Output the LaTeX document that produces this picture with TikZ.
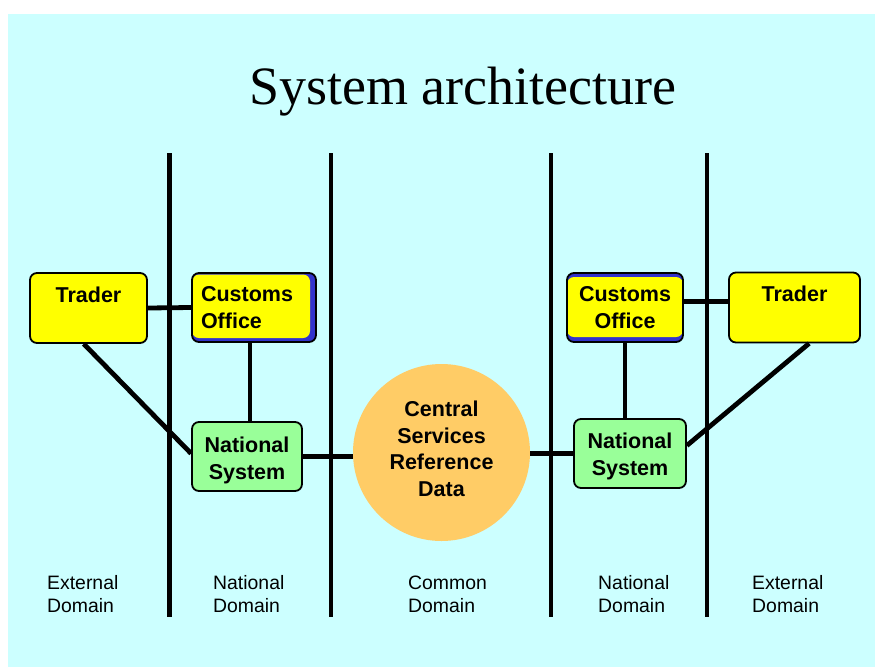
\documentclass[tikz,border=0pt]{standalone}
\usepackage{fontspec}
\setmainfont{Liberation Sans}
\newfontfamily\titlefont{Liberation Serif}
\usetikzlibrary{calc}
\definecolor{bgcyan}{HTML}{CCFFFF}
\definecolor{boxyellow}{HTML}{FFFF00}
\definecolor{boxgreen}{HTML}{99FF99}
\definecolor{boxorange}{HTML}{FFCC66}
\definecolor{shadeblue}{HTML}{3333CC}
\tikzset{
  box/.style={draw=black, line width=1.8pt, rounded corners=7pt, inner sep=0pt,
    font=\fontsize{21.5}{26.5}\selectfont\bfseries, align=center},
  traderbox/.style={box, fill=boxyellow, minimum height=70pt, text height=29pt, text depth=41pt},
  customsbox/.style={box, fill=shadeblue, minimum height=69pt},
  nsbox/.style={box, fill=boxgreen, minimum height=69pt},
  hub/.style={circle, fill=boxorange, inner sep=0pt, minimum size=177pt,
    font=\fontsize{21.5}{26.5}\selectfont\bfseries, align=center},
  link/.style={line width=4.8pt, line cap=butt},
  divider/.style={line width=4.8pt},
  domainlabel/.style={font=\fontsize{19.4}{23}\selectfont, align=left, anchor=base west, inner sep=0pt}
}
\begin{document}
\begin{tikzpicture}[x=1pt,y=-1pt]
\useasboundingbox (0,0) rectangle (875,667);
\fill[white] (0,0) rectangle (875,667);
\fill[bgcyan] (8,14) rectangle (875,667);

% title
\node[font=\titlefont\fontsize{54}{60}\selectfont, anchor=base] (title) at (463,104) {System architecture};

% domain dividers
\foreach \x in {169.5,331,551,707}{
  \draw[divider] (\x,153) -- (\x,617);
}

% nodes
\node[traderbox, minimum width=117pt] (tl) at (88.5,308) {Trader};
\node[traderbox, minimum width=131pt] (tr) at (794.5,307.5) {Trader};
\node[customsbox, minimum width=124pt, text width=106pt, align=left,
  path picture={\fill[boxyellow] ([xshift=0pt,yshift=-1.5pt]path picture bounding box.north west)
     rectangle ([xshift=-6pt,yshift=4pt]path picture bounding box.south east);}]
  (cl) at (254,307.5) {Customs\\Office};
\node[customsbox, minimum width=116pt,
  path picture={\fill[boxyellow] ([yshift=-4pt]path picture bounding box.north west)
     rectangle ([yshift=5pt]path picture bounding box.south east);}]
  (cr) at (625,307.5) {Customs\\Office};
\node[nsbox, minimum width=110pt, text height=57pt, text depth=12pt] (nl) at (247,456.5) {National\\System};
\node[nsbox, minimum width=112pt, text height=56pt, text depth=13pt] (nr) at (630,453.5) {National\\System};
\node[hub, text height=100pt, text depth=13pt] (cs) at (441.5,452.5) {Central\\Services\\Reference\\Data};

% connectors
\draw[link] (tl.east) -- (cl.west);
\draw[link] ($(tl.south west)!0.46!(tl.south east)$) -- ([yshift=3pt]nl.west);
\draw[link] ([xshift=3pt]nl.north |- cl.south) -- ([xshift=3pt]nl.north);
\draw[link] (nl.east) -- (nl.east -| cs.west);
\draw[link] (cs.east |- nr.west) -- (nr.west);
\draw[link] ([yshift=6pt]cr.east) -- ([yshift=6pt]cr.east -| tr.west);
\draw[link] (cr.south) -- (cr.south |- nr.north);
\draw[link] ($(tr.south west)!0.61!(tr.south east)$) -- ([yshift=8pt]nr.east);

% domain labels
\node[domainlabel] (d1) at (47,612) {External\\Domain};
\node[domainlabel] (d2) at (213,612) {National\\Domain};
\node[domainlabel] (d3) at (408,612) {Common\\Domain};
\node[domainlabel] (d4) at (598,612) {National\\Domain};
\node[domainlabel] (d5) at (752,612) {External\\Domain};
\end{tikzpicture}
\end{document}
